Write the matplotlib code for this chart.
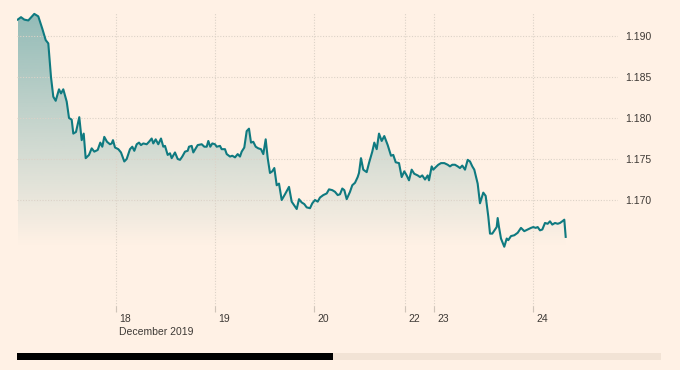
import numpy as np
import matplotlib
matplotlib.use("Agg")
import matplotlib.pyplot as plt
from matplotlib.colors import to_rgb
from matplotlib.patches import Rectangle
from matplotlib.transforms import ScaledTranslation, blended_transform_factory

# hours of trading time since 17 Dec 2019 00:00
hours = [0.17, 0.97, 1.77, 2.74, 4.19, 5.16, 6.13, 6.96, 7.59, 8.24, 8.80, 9.38,
         10.18, 10.67, 11.22, 12.05, 12.61, 13.26, 13.65, 14.30, 15.10, 15.68, 16.17,
         16.65, 17.45, 18.11, 18.74, 19.56, 20.19, 20.68, 21.16, 21.82, 22.55, 22.96,
         23.27, 23.76, 24.56, 25.21, 26.01, 26.59, 27.39, 27.95, 28.44, 29.02, 29.58,
         30.06, 30.62, 31.44, 32.00, 32.65, 33.04, 33.62, 34.25, 34.91, 35.47, 35.88,
         36.53, 37.09, 37.50, 38.30, 38.96, 39.52, 40.07, 40.73, 41.38, 41.70, 42.35,
         42.74, 43.32, 43.81, 44.78, 45.41, 45.99, 46.38, 46.86, 47.35, 48.00, 48.41,
         49.21, 49.62, 50.42, 50.84, 51.64, 52.19, 52.85, 53.50, 54.06, 54.47, 55.10,
         55.68, 56.24, 56.73, 57.28, 57.87, 58.50, 59.15, 59.71, 60.29, 60.78, 61.33,
         61.89, 62.38, 62.96, 63.52, 64.17, 64.97, 65.94, 66.59, 67.81, 68.36, 69.02,
         69.65, 70.23, 71.03, 71.59, 72.24, 72.90, 73.45, 74.25, 75.08, 75.64, 76.44,
         77.09, 77.75, 78.30, 78.86, 79.35, 79.93, 80.73, 81.28, 81.94, 82.59, 82.91,
         83.39, 83.95, 84.77, 85.33, 86.13, 86.62, 87.20, 87.76, 88.41, 89.04, 89.87,
         90.67, 91.22, 91.81, 92.61, 93.26, 93.89, 94.47, 95.03, 95.68, 96.31, 97.14,
         97.70, 98.25, 98.91, 99.56, 99.88, 100.53, 100.92, 101.50, 102.13, 102.79,
         103.59, 104.41, 104.97, 105.53, 106.18, 106.84, 107.39, 107.95, 108.61,
         109.26, 109.82, 110.38, 110.86, 111.68, 112.24, 113.04, 113.62, 114.25,
         114.67, 115.22, 115.88, 116.29, 116.53, 116.85, 117.33, 118.13, 118.72,
         119.10, 119.76, 120.56, 121.38, 122.18, 122.98, 123.81, 124.61, 125.16,
         125.75, 126.23, 126.79, 127.35, 128.00, 128.65, 129.21, 129.77, 130.42,
         131.08, 131.64, 132.19, 132.68, 133.02]

rates = [1.1920, 1.1923, 1.1920, 1.1919, 1.1927, 1.1924, 1.1909, 1.1895, 1.1891, 1.1850,
         1.1826, 1.1821, 1.1835, 1.1830, 1.1835, 1.1820, 1.1800, 1.1798, 1.1781, 1.1783,
         1.1801, 1.1773, 1.1781, 1.1751, 1.1755, 1.1763, 1.1759, 1.1761, 1.1770, 1.1765,
         1.1777, 1.1771, 1.1768, 1.1769, 1.1773, 1.1764, 1.1762, 1.1758, 1.1747, 1.1750,
         1.1762, 1.1765, 1.1760, 1.1768, 1.1770, 1.1767, 1.1769, 1.1768, 1.1771, 1.1775,
         1.1769, 1.1774, 1.1768, 1.1775, 1.1765, 1.1766, 1.1755, 1.1757, 1.1751, 1.1758,
         1.1750, 1.1749, 1.1753, 1.1759, 1.1760, 1.1765, 1.1766, 1.1758, 1.1763, 1.1767,
         1.1768, 1.1765, 1.1765, 1.1772, 1.1765, 1.1769, 1.1768, 1.1765, 1.1766, 1.1762,
         1.1762, 1.1756, 1.1753, 1.1754, 1.1752, 1.1756, 1.1753, 1.1759, 1.1764, 1.1784,
         1.1787, 1.1770, 1.1771, 1.1765, 1.1763, 1.1762, 1.1756, 1.1774, 1.1751, 1.1733,
         1.1735, 1.1739, 1.1718, 1.1720, 1.1700, 1.1707, 1.1716, 1.1698, 1.1689, 1.1701,
         1.1697, 1.1695, 1.1691, 1.1690, 1.1696, 1.1700, 1.1698, 1.1703, 1.1706, 1.1708,
         1.1713, 1.1712, 1.1710, 1.1706, 1.1707, 1.1714, 1.1712, 1.1701, 1.1710, 1.1718,
         1.1721, 1.1728, 1.1733, 1.1751, 1.1737, 1.1734, 1.1745, 1.1759, 1.1770, 1.1762,
         1.1781, 1.1772, 1.1778, 1.1767, 1.1754, 1.1755, 1.1746, 1.1745, 1.1728, 1.1735,
         1.1730, 1.1724, 1.1737, 1.1732, 1.1730, 1.1728, 1.1730, 1.1725, 1.1730, 1.1724,
         1.1741, 1.1737, 1.1740, 1.1743, 1.1745, 1.1745, 1.1743, 1.1741, 1.1743, 1.1743,
         1.1741, 1.1739, 1.1742, 1.1737, 1.1749, 1.1747, 1.1741, 1.1737, 1.1720, 1.1696,
         1.1709, 1.1705, 1.1680, 1.1659, 1.1659, 1.1664, 1.1667, 1.1678, 1.1667, 1.1653,
         1.1643, 1.1653, 1.1651, 1.1656, 1.1657, 1.1660, 1.1666, 1.1662, 1.1664, 1.1666,
         1.1667, 1.1666, 1.1667, 1.1663, 1.1664, 1.1672, 1.1671, 1.1674, 1.1670, 1.1672,
         1.1671, 1.1672, 1.1674, 1.1676, 1.1655]

day_ticks = [24, 48, 72, 94, 101, 125]
day_labels = ["18", "19", "20", "22", "23", "24"]
month_label = "December 2019"
y_ticks = [1.170, 1.175, 1.180, 1.185, 1.190]

bg = "#fff1e5"
teal = "#0f7a80"
grid_c = "#dcd2c7"
text_c = "#3d3935"

plt.rcParams["font.family"] = ["Liberation Sans", "DejaVu Sans"]

fig = plt.figure(figsize=(6.8, 3.7), dpi=100, facecolor=bg)
ax = fig.add_axes([17 / 680, 58 / 370, 601 / 680, 300 / 370])
ax.set_facecolor(bg)

ymin, ymax = 1.15634, 1.19293
xmin, xmax = 0, 145.7

# gradient fill under the line, fading from the highest to the lowest value
x = np.array(hours)
y = np.array(rates)
rgba = np.zeros((256, 1, 4))
rgba[..., :3] = to_rgb(teal)
rgba[..., 3] = np.linspace(0, 0.45, 256)[:, None]
im = ax.imshow(rgba, extent=[x.min(), x.max(), y.min(), y.max()], origin="lower",
               aspect="auto", zorder=1, interpolation="bilinear")
poly = ax.fill_between(x, y, ymin, facecolor="none", edgecolor="none")
im.set_clip_path(poly.get_paths()[0], transform=ax.transData)

ax.plot(x, y, color=teal, lw=1.5, zorder=3, solid_joinstyle="round")

ax.set_xlim(xmin, xmax)
ax.set_ylim(ymin, ymax)

for s in ax.spines.values():
    s.set_visible(False)

ax.set_yticks(y_ticks)
ax.set_yticklabels([f"{v:.3f}" for v in y_ticks])
ax.yaxis.tick_right()
ax.tick_params(axis="y", length=0, pad=5, labelsize=7.5, labelcolor=text_c)
ax.set_xticks(day_ticks)
ax.set_xticklabels(day_labels)
ax.tick_params(axis="x", direction="in", length=4, width=0.8, color="#cfc4b9",
               pad=1.5, labelsize=7.5, labelcolor=text_c)
shift = ScaledTranslation(3.5 / 100, 0, fig.dpi_scale_trans)
for lbl in ax.get_xticklabels():
    lbl.set_horizontalalignment("left")
    lbl.set_transform(lbl.get_transform() + shift)

ax.grid(True, color=grid_c, lw=0.8, linestyle=(0, (1, 1.5)), zorder=0)

trans = blended_transform_factory(ax.transData, ax.transAxes) + ScaledTranslation(3.5 / 100, -15 / 100, fig.dpi_scale_trans)
ax.text(day_ticks[0], 0, month_label, transform=trans, ha="left", va="top",
        fontsize=7.5, color=text_c)

# scroll bar below the chart
fig.add_artist(Rectangle((17 / 680, 10 / 370), 316 / 680, 7 / 370,
                         transform=fig.transFigure, facecolor="#000000", edgecolor="none"))
fig.add_artist(Rectangle((333 / 680, 10 / 370), 328 / 680, 7 / 370,
                         transform=fig.transFigure, facecolor="#f2e3d5", edgecolor="none"))

fig.savefig("out.png", dpi=100, facecolor=bg)
